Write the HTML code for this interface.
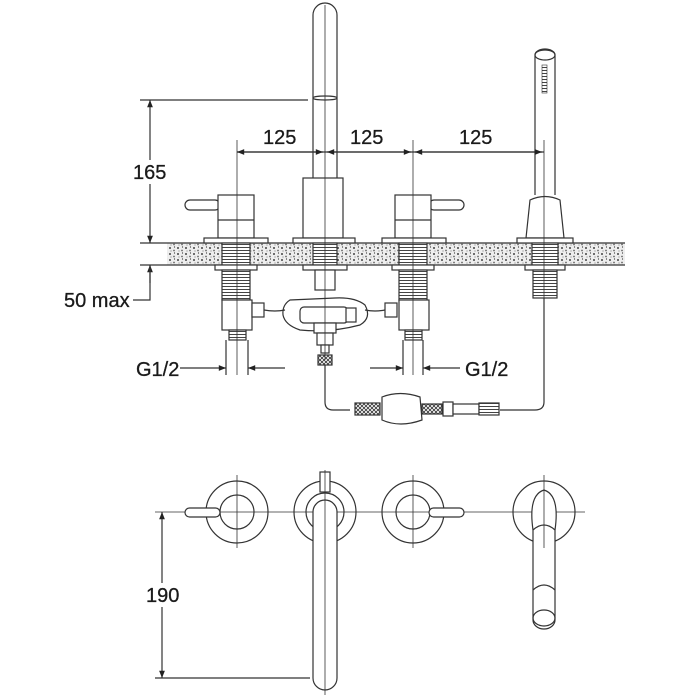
<!DOCTYPE html>
<html><head><meta charset="utf-8"><style>body{margin:0;background:#fff}svg{display:block}text{font-family:"Liberation Sans",sans-serif;font-size:20px;fill:#1a1a1a;stroke:#1a1a1a;stroke-width:.3}</style></head><body>
<svg width="700" height="700" viewBox="0 0 700 700" xmlns="http://www.w3.org/2000/svg">
<defs>
<marker id="a" viewBox="0 0 10 10" refX="10" refY="5" markerWidth="9" markerHeight="6" orient="auto-start-reverse"><path d="M0,1 L10,5 L0,9z" fill="#222"/></marker>
<pattern id="sp" width="8" height="6" patternUnits="userSpaceOnUse"><rect width="8" height="6" fill="#eee"/><circle cx="2" cy="2" r="1" fill="#444"/><circle cx="6" cy="4.5" r=".9" fill="#666"/><circle cx="6.5" cy="1" r=".6" fill="#333"/><circle cx="3" cy="5" r=".5" fill="#555"/></pattern>
<pattern id="th" width="6" height="3" patternUnits="userSpaceOnUse"><rect width="6" height="3" fill="#fff"/><line x1="0" y1="1.5" x2="6" y2="1.5" stroke="#444" stroke-width="1"/></pattern>
<pattern id="hs" width="4" height="4" patternUnits="userSpaceOnUse"><rect width="4" height="4" fill="#fff"/><path d="M0,0L4,4M4,0L0,4" stroke="#333" stroke-width=".8"/></pattern>
</defs>
<g fill="none" stroke="#333" stroke-width="1.2">
<rect x="167" y="243" width="458" height="22" fill="url(#sp)" stroke="none"/>
<line x1="140" y1="243" x2="625" y2="243"/><line x1="140" y1="265" x2="625" y2="265"/>
<path d="M313,172 V15 A12,12 0 0 1 337,15 V172" fill="#fff"/>
<ellipse cx="325" cy="98" rx="12" ry="2"/>
<rect x="303" y="178" width="40" height="60" fill="#fff"/>
<line x1="313" y1="172" x2="313" y2="178"/><line x1="337" y1="172" x2="337" y2="178"/>
<rect x="293" y="238" width="62" height="5" fill="#fff"/>
<rect x="185" y="200" width="35" height="10" rx="5" fill="#fff"/>
<rect x="218" y="195" width="36" height="43" fill="#fff"/>
<line x1="218" y1="220" x2="254" y2="220"/>
<rect x="204" y="238" width="64" height="5" fill="#fff"/>
<rect x="429" y="200" width="35" height="10" rx="5" fill="#fff"/>
<rect x="395" y="195" width="36" height="43" fill="#fff"/>
<line x1="395" y1="220" x2="431" y2="220"/>
<rect x="382" y="238" width="64" height="5" fill="#fff"/>
<path d="M535,195 V55 A10,6 0 0 1 555,55 V195" fill="#fff"/>
<ellipse cx="545" cy="55" rx="10" ry="5"/>
<rect x="542" y="65" width="5" height="28" fill="url(#th)" stroke-width=".6"/>
<path d="M530,200 Q545,193 560,200 L564,238 H526 Z" fill="#fff"/>
<rect x="517" y="238" width="56" height="5" fill="#fff"/>
<rect x="222" y="243" width="28" height="22" fill="url(#th)"/>
<rect x="313" y="243" width="24" height="22" fill="url(#th)"/>
<rect x="399" y="243" width="28" height="22" fill="url(#th)"/>
<rect x="532" y="243" width="26" height="22" fill="url(#th)"/>
<rect x="215" y="265" width="42" height="5" fill="#fff"/><rect x="303" y="265" width="44" height="5" fill="#fff"/><rect x="392" y="265" width="42" height="5" fill="#fff"/><rect x="525" y="265" width="40" height="5" fill="#fff"/>
<rect x="222" y="270" width="28" height="30" fill="url(#th)"/>
<rect x="399" y="270" width="28" height="30" fill="url(#th)"/>
<rect x="533" y="270" width="24" height="28" fill="url(#th)"/>
<rect x="315" y="270" width="20" height="20" fill="#fff"/>
<rect x="222" y="300" width="30" height="30" fill="#fff"/><rect x="229" y="330" width="17" height="10" fill="url(#th)"/>
<rect x="399" y="300" width="30" height="30" fill="#fff"/><rect x="405" y="330" width="17" height="10" fill="url(#th)"/>
<rect x="252" y="303" width="12" height="14" fill="#fff"/><rect x="385" y="303" width="12" height="14" fill="#fff"/>
<path d="M290,300 Q282,305 283,315 Q285,325 300,330 Q330,333 360,325 Q372,318 365,305 Q355,297 335,298 Z"/>
<rect x="300" y="307" width="48" height="16" rx="4" fill="#fff"/>
<rect x="346" y="308" width="10" height="14" fill="#fff"/>
<path d="M264,310 Q275,312 285,310 M365,310 Q375,312 385,310"/>
<rect x="314" y="323" width="22" height="10" fill="#fff"/><rect x="317" y="333" width="16" height="12" fill="#fff"/>
<rect x="321" y="345" width="8" height="8" fill="#fff"/><rect x="318" y="355" width="14" height="10" fill="url(#hs)"/>
<path d="M325,365 V402 Q325,410 333,410 H350"/>
<rect x="355" y="403" width="25" height="12" fill="url(#hs)"/>
<path d="M382,397 Q400,390 420,397 L422,420 Q400,428 382,420 Z" fill="#fff"/>
<rect x="422" y="404" width="20" height="10" fill="url(#hs)"/>
<rect x="443" y="402" width="10" height="14" fill="#fff"/><rect x="453" y="404" width="26" height="10" fill="#fff"/>
<rect x="479" y="403" width="20" height="12" fill="url(#th)"/>
<path d="M500,410 H535 Q544,410 544,402 V298"/>
<g stroke-width=".8"><line x1="237" y1="140" x2="237" y2="375"/><line x1="413" y1="140" x2="413" y2="375"/><line x1="544" y1="140" x2="544" y2="300"/><line x1="325" y1="5" x2="325" y2="360"/></g>
<line x1="237" y1="152" x2="544" y2="152"/>
<line x1="237" y1="152" x2="323" y2="152" marker-start="url(#a)" marker-end="url(#a)"/>
<line x1="327" y1="152" x2="411" y2="152" marker-start="url(#a)" marker-end="url(#a)"/>
<line x1="415" y1="152" x2="542" y2="152" marker-start="url(#a)" marker-end="url(#a)"/>
<line x1="140" y1="100" x2="308" y2="100"/>
<line x1="150" y1="100" x2="150" y2="243" marker-start="url(#a)" marker-end="url(#a)"/>
<line x1="150" y1="283" x2="150" y2="265" marker-end="url(#a)"/>
<path d="M150,265 V300 H133"/>
<line x1="180" y1="368" x2="226" y2="368" marker-end="url(#a)"/><line x1="285" y1="368" x2="248" y2="368" marker-end="url(#a)"/>
<line x1="370" y1="368" x2="403" y2="368" marker-end="url(#a)"/><line x1="460" y1="368" x2="423" y2="368" marker-end="url(#a)"/>
<line x1="226" y1="340" x2="226" y2="375"/><line x1="248" y1="340" x2="248" y2="375"/><line x1="403" y1="340" x2="403" y2="375"/><line x1="423" y1="340" x2="423" y2="375"/>
<line x1="155" y1="512" x2="585" y2="512" stroke-width=".8"/>
<circle cx="237" cy="512" r="31"/><circle cx="237" cy="512" r="17"/>
<circle cx="325" cy="512" r="31"/><circle cx="325" cy="512" r="19"/>
<circle cx="413" cy="512" r="31"/><circle cx="413" cy="512" r="17"/>
<circle cx="544" cy="512" r="31"/>
<path d="M533,530 Q528,495 544,490 Q560,495 555,530" fill="#fff"/>
<rect x="185" y="508" width="35" height="9" rx="4.5" fill="#fff"/>
<rect x="429" y="508" width="35" height="9" rx="4.5" fill="#fff"/>
<rect x="320" y="472" width="10" height="20" fill="#fff"/>
<path d="M313,678 V512 A12,12 0 0 1 337,512 V678 A12,12 0 0 1 313,678" fill="#fff"/>
<path d="M533,530 Q544,520 555,530 V620 A11,9 0 0 1 533,620 Z" fill="#fff"/>
<ellipse cx="544" cy="618" rx="11" ry="8"/>
<path d="M533,590 Q544,580 555,590"/>
<g stroke-width=".8"><line x1="237" y1="475" x2="237" y2="548"/><line x1="413" y1="475" x2="413" y2="548"/><line x1="544" y1="475" x2="544" y2="548"/><line x1="325" y1="470" x2="325" y2="695"/></g>
<line x1="155" y1="678" x2="310" y2="678"/>
<line x1="162" y1="512" x2="162" y2="678" marker-start="url(#a)" marker-end="url(#a)"/>
</g>
<g>
<rect x="262" y="125" width="42" height="22" fill="#fff"/><text x="263" y="144">125</text>
<rect x="349" y="125" width="42" height="22" fill="#fff"/><text x="350" y="144">125</text>
<text x="459" y="144">125</text>
<rect x="133" y="160" width="36" height="24" fill="#fff"/><text x="133" y="179">165</text>
<text x="64" y="307">50 max</text>
<text x="136" y="376">G1/2</text>
<text x="465" y="376">G1/2</text>
<rect x="146" y="583" width="34" height="24" fill="#fff"/><text x="146" y="602">190</text>
</g>
</svg>
</body></html>
